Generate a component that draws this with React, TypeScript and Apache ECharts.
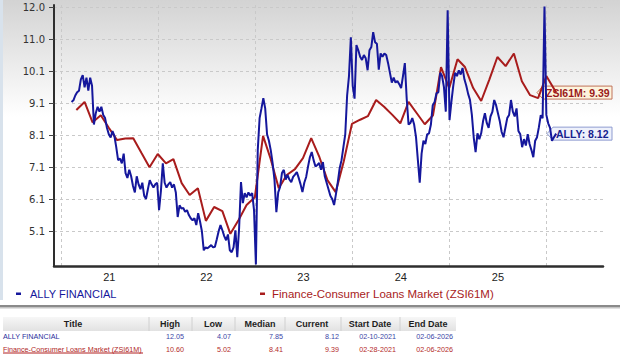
import React, { useEffect, useRef } from 'react';
import * as echarts from 'echarts';

// ALLY FINANCIAL (weekly readings from 2021-02-10, final reading on 2026-02-06)
const ALLY_START = '2021-02-10';
const ALLY_END = '2026-02-06';
const ALLY_VALUES = [
  9.1, 9.15, 9.3, 9.4, 9.45, 9.8, 9.93, 9.55, 9.85, 9.45,
  9.85, 9.6, 8.4, 8.75, 8.95, 8.8, 8.95, 8.7, 8.6, 8.3,
  8.1, 8.0, 8.2, 8.05, 7.7, 7.3, 7.35, 7.2, 7.5, 6.9,
  6.75, 7.0, 6.8, 6.5, 6.3, 6.8, 6.55, 6.4, 6.6, 6.2,
  6.1, 6.4, 6.68, 6.55, 6.45, 6.55, 6.6, 5.75, 6.35, 7.2,
  6.6, 6.45, 6.55, 6.62, 6.45, 6.55, 6.3, 5.54, 5.9, 5.8,
  5.82, 5.7, 5.75, 5.6, 5.5, 5.44, 5.5, 5.29, 5.66, 5.4,
  5.1, 4.51, 4.6, 4.57, 4.62, 4.67, 4.6, 4.62, 4.85, 5.1,
  5.29, 5.13, 4.95, 4.82, 5.0, 4.51, 4.45, 4.6, 5.13, 4.3,
  5.2, 6.62, 5.97, 6.28, 6.15, 6.3, 6.2, 6.28, 5.75, 4.07,
  7.6, 8.6, 8.9, 9.22, 8.9, 8.1, 7.9, 7.6, 7.2, 6.68,
  5.69, 6.3, 6.47, 6.9, 7.0, 6.7, 6.84, 6.7, 6.62, 6.78,
  6.85, 6.93, 6.75, 6.55, 6.31, 6.6, 6.78, 7.1, 7.39, 7.55,
  7.3, 7.1, 7.15, 7.21, 7.0, 7.24, 6.8, 6.6, 6.4, 6.2,
  6.1, 5.91, 6.25, 6.62, 7.05, 7.3, 7.7, 8.1, 9.3, 9.9,
  11.1, 9.6, 9.2, 10.86, 10.7, 10.5, 10.4, 10.55, 10.45, 10.08,
  10.7, 10.8, 11.26, 10.95, 10.9, 10.1, 10.6, 10.5, 10.6, 10.55,
  10.3, 10.0, 9.7, 9.85, 9.7, 9.75, 9.65, 9.53, 9.9, 10.3,
  9.2, 8.4, 8.45, 8.6, 8.4, 8.01, 7.3, 6.6, 7.5, 7.9,
  7.8, 8.1, 8.13, 8.4, 9.0, 9.1, 9.37, 9.4, 10.0, 9.9,
  9.56, 8.8, 11.94, 8.54, 9.1, 9.6, 10.0, 9.9, 10.08, 9.95,
  10.15, 9.8, 9.6, 9.35, 9.16, 8.7, 8.0, 7.55, 8.13, 7.95,
  8.13, 8.5, 8.75, 8.45, 8.3, 8.65, 8.79, 9.16, 9.0, 8.75,
  8.5, 8.17, 8.01, 8.3, 8.6, 8.7, 9.16, 8.8, 8.65, 8.9,
  8.2, 8.1, 7.7, 7.95, 7.75, 8.1, 7.8, 7.61, 7.39, 7.9,
  8.01, 8.32, 8.69, 8.6, 12.05, 8.7, 8.44, 8.3, 7.9, 8.0,
  8.12,
];

// Finance-Consumer Loans Market (ZSI61M), monthly
const ZSI_DATES = [
  '2021-02-28', '2021-03-31', '2021-04-30', '2021-05-31', '2021-06-30', '2021-07-31',
  '2021-08-31', '2021-09-30', '2021-10-31', '2021-11-30', '2021-12-31',
  '2022-01-31', '2022-02-28', '2022-03-31', '2022-04-30', '2022-05-31', '2022-06-30',
  '2022-07-31', '2022-08-31', '2022-09-30', '2022-10-31', '2022-11-30', '2022-12-31',
  '2023-01-31', '2023-02-28', '2023-03-31', '2023-04-30', '2023-05-31', '2023-06-30',
  '2023-07-31', '2023-08-31', '2023-09-30', '2023-10-31', '2023-11-30', '2023-12-31',
  '2024-01-31', '2024-02-29', '2024-03-31', '2024-04-30', '2024-05-31', '2024-06-30',
  '2024-07-31', '2024-08-31', '2024-09-30', '2024-10-31', '2024-11-30', '2024-12-31',
  '2025-01-31', '2025-02-28', '2025-03-31', '2025-04-30', '2025-05-31', '2025-06-30',
  '2025-07-31', '2025-08-31', '2025-09-30', '2025-10-31', '2025-11-30', '2025-12-31',
  '2026-02-06',
];
const ZSI_VALUES = [
  8.85, 9.1, 8.47, 8.69, 8.3, 7.92, 7.97, 7.98, 7.52, 7.08, 7.49,
  7.2, 7.33, 6.59, 6.22, 6.43, 5.42, 5.85, 5.72, 5.02, 5.45, 5.91, 6.15,
  8.05, 7.35, 6.43, 6.84, 7.02, 7.36, 7.98, 7.39, 6.68, 6.31, 7.25, 8.42,
  8.55, 8.66, 9.16, 8.95, 8.7, 8.44, 9.1, 8.75, 8.41, 8.69, 10.18, 9.53,
  10.42, 10.18, 9.53, 9.13, 9.8, 10.49, 10.21, 10.6, 9.74, 9.31, 9.22, 9.9,
  9.39,
];

// axes
const Y_TICKS = [5.105, 6.095, 7.085, 8.075, 9.065, 10.055, 11.045, 12.035];
const Y_MIN = 4.024;
const Y_MAX = 12.1;
const X_MIN = '2020-12-06';
const X_MAX = '2026-08-01';
const YEAR_STARTS = ['2021-01-01', '2022-01-01', '2023-01-01', '2024-01-01', '2025-01-01', '2026-01-01'];
const YEAR_LABEL_DATES = ['2021-07-02', '2022-07-02', '2023-07-02', '2024-07-02', '2025-07-02'];
const YEAR_LABELS = ['21', '22', '23', '24', '25'];

// legend / table
const ALLY_NAME = 'ALLY FINANCIAL';
const ZSI_NAME = 'Finance-Consumer Loans Market (ZSI61M)';
const TABLE_HEADERS = ['Title', 'High', 'Low', 'Median', 'Current', 'Start Date', 'End Date'];
const ALLY_STATS = ['12.05', '4.07', '7.85', '8.12', '02-10-2021', '02-06-2026'];
const ZSI_STATS = ['10.60', '5.02', '8.41', '9.39', '02-28-2021', '02-06-2026'];
const ALLY_TAG = 'ALLY: 8.12';
const ZSI_TAG = 'ZSI61M: 9.39';

const BLUE = '#15179c';
const RED = '#a81c1c';
const SANS = '"Liberation Sans", Arial, sans-serif';

function ts(s: string): number {
  const [y, m, d] = s.split('-').map(Number);
  return new Date(y, m - 1, d).getTime();
}

export default function App() {
  const ref = useRef<HTMLDivElement>(null);

  useEffect(() => {
    if (!ref.current) return;
    const chart = echarts.init(ref.current, null, { renderer: 'svg', width: 620, height: 354 });

    const start = ts(ALLY_START);
    const allyData = ALLY_VALUES.map((v, i) =>
      i === ALLY_VALUES.length - 1 ? [ts(ALLY_END), v] : [start + i * 7 * 86400000, v]
    );
    const zsiData = ZSI_DATES.map((d, i) => [ts(d), ZSI_VALUES[i]]);
    const labelDates = YEAR_LABEL_DATES.map(ts);

    const splitStyle = { color: '#c9c9c9', width: 1, type: [3, 3] as any };

    chart.setOption({
      animation: false,
      backgroundColor: {
        type: 'linear', x: 0, y: 0, x2: 0, y2: 1,
        colorStops: [
          { offset: 0, color: '#d3d3d3' },
          { offset: 0.33, color: '#ffffff' },
          { offset: 1, color: '#ffffff' },
        ],
      },
      grid: { left: 54, right: 17, top: 5, bottom: 88, containLabel: false },
      xAxis: {
        type: 'value',
        min: ts(X_MIN),
        max: ts(X_MAX),
        axisLine: { show: true, lineStyle: { color: '#2e2e2e', width: 2.5 } },
        axisTick: { show: false, customValues: YEAR_STARTS.map(ts) },
        axisLabel: {
          customValues: labelDates,
          formatter: (v: number) => {
            let best = 0;
            labelDates.forEach((d, i) => { if (Math.abs(d - v) < Math.abs(labelDates[best] - v)) best = i; });
            return YEAR_LABELS[best];
          },
          color: '#222',
          fontFamily: SANS,
          fontSize: 11,
          margin: 5,
        },
        splitLine: { show: true, lineStyle: splitStyle },
      },
      yAxis: {
        type: 'value',
        min: Y_MIN,
        max: Y_MAX,
        axisLine: { show: true, lineStyle: { color: '#2e2e2e', width: 2 } },
        axisTick: { show: true, length: 5, lineStyle: { color: '#444' }, customValues: Y_TICKS },
        axisLabel: {
          customValues: Y_TICKS,
          formatter: (v: number) => v.toFixed(1),
          color: '#333',
          fontFamily: '"DejaVu Sans", Verdana, sans-serif',
          fontSize: 10,
          margin: 9,
        },
        splitLine: { show: true, lineStyle: splitStyle },
      },
      series: [
        {
          name: ZSI_NAME,
          type: 'line',
          data: zsiData,
          showSymbol: false,
          symbol: 'none',
          lineStyle: { color: RED, width: 2 },
          z: 2,
        },
        {
          name: ALLY_NAME,
          type: 'line',
          data: allyData,
          showSymbol: false,
          symbol: 'none',
          lineStyle: { color: BLUE, width: 2 },
          z: 3,
        },
      ],
    });

    const zsiLast = zsiData[zsiData.length - 1];
    const allyLast = allyData[allyData.length - 1];
    const zy = (chart.convertToPixel({ gridIndex: 0 }, zsiLast) as number[])[1];
    const ay = (chart.convertToPixel({ gridIndex: 0 }, allyLast) as number[])[1];

    const tag = (tip: number, right: number, cy: number, text: string, fill: string, stroke: string, color: string) => ({
      type: 'group',
      z: 100,
      children: [
        {
          type: 'polygon',
          shape: { points: [[tip, cy], [tip + 6, cy - 6.5], [right, cy - 6.5], [right, cy + 6.5], [tip + 6, cy + 6.5]] },
          style: { fill, stroke, lineWidth: 1 },
        },
        {
          type: 'text',
          x: tip + 9,
          y: cy + 0.5,
          style: {
            text, fill: color, font: `bold 10.5px ${SANS}`,
            textAlign: 'left', textVerticalAlign: 'middle', align: 'left', verticalAlign: 'middle',
          },
        },
      ],
    });

    const txt = (x: number, y: number, text: string, color: string, font: string, align = 'left') => ({
      type: 'text',
      x,
      y,
      style: { text, fill: color, font, textAlign: align, textVerticalAlign: 'middle', align, verticalAlign: 'middle' },
    });

    const headerCenters = [73, 170, 213, 260, 312, 370, 428];
    const colRights = [184, 231, 283, 339, 396, 453];
    const separators = [149, 192, 235, 285, 341, 400];

    const graphics: any[] = [
      { type: 'rect', shape: { x: 0, y: 0, width: 3, height: 300 }, style: { fill: '#d8e2ec' } },
      // legend
      { type: 'rect', shape: { x: 16, y: 292.5, width: 5, height: 2.5 }, style: { fill: BLUE } },
      txt(30, 294, ALLY_NAME, BLUE, `11px ${SANS}`),
      { type: 'rect', shape: { x: 260, y: 292.5, width: 5, height: 2.5 }, style: { fill: RED } },
      txt(272, 294, ZSI_NAME, RED, `11.5px ${SANS}`),
      // separator
      { type: 'rect', shape: { x: 0, y: 305, width: 620, height: 2 }, style: { fill: '#8a8a8a' } },
      { type: 'rect', shape: { x: 0, y: 307, width: 620, height: 1.5 }, style: { fill: '#c4c4c4' } },
      // table header
      {
        type: 'rect',
        shape: { x: 3, y: 317, width: 453, height: 14 },
        style: {
          fill: {
            type: 'linear', x: 0, y: 0, x2: 0, y2: 1,
            colorStops: [{ offset: 0, color: '#f7f7f7' }, { offset: 1, color: '#e2e2e2' }],
          },
        },
      },
      ...separators.map((x) => ({
        type: 'line',
        shape: { x1: x, y1: 317, x2: x, y2: 331 },
        style: { stroke: '#d0d0d0', lineWidth: 1 },
      })),
      ...TABLE_HEADERS.map((h, i) => txt(headerCenters[i], 324, h, '#1e1e1e', `bold 9px ${SANS}`, 'center')),
      txt(3, 336.5, ALLY_NAME, '#2a2f9c', `7.2px ${SANS}`),
      ...ALLY_STATS.map((s, i) => txt(colRights[i], 336.5, s, '#3a46a6', `7.2px ${SANS}`, 'right')),
      txt(3, 349, ZSI_NAME, '#b01e1e', `7.2px ${SANS}`),
      { type: 'line', shape: { x1: 3, y1: 353, x2: 143, y2: 353 }, style: { stroke: '#b01e1e', lineWidth: 1 } },
      ...ZSI_STATS.map((s, i) => txt(colRights[i], 349, s, '#b42a2a', `7.2px ${SANS}`, 'right')),
      // end tags
      tag(537, 612, zy, ZSI_TAG, '#fdf4dd', '#c0735a', '#9a1a1a'),
      tag(547, 612, ay, ALLY_TAG, '#eef1fb', '#8e9bd0', '#17228e'),
    ];

    chart.setOption({ graphic: graphics });

    return () => chart.dispose();
  }, []);

  return <div ref={ref} style={{ position: 'fixed', left: 0, top: 0, width: 620, height: 354 }} />;
}
